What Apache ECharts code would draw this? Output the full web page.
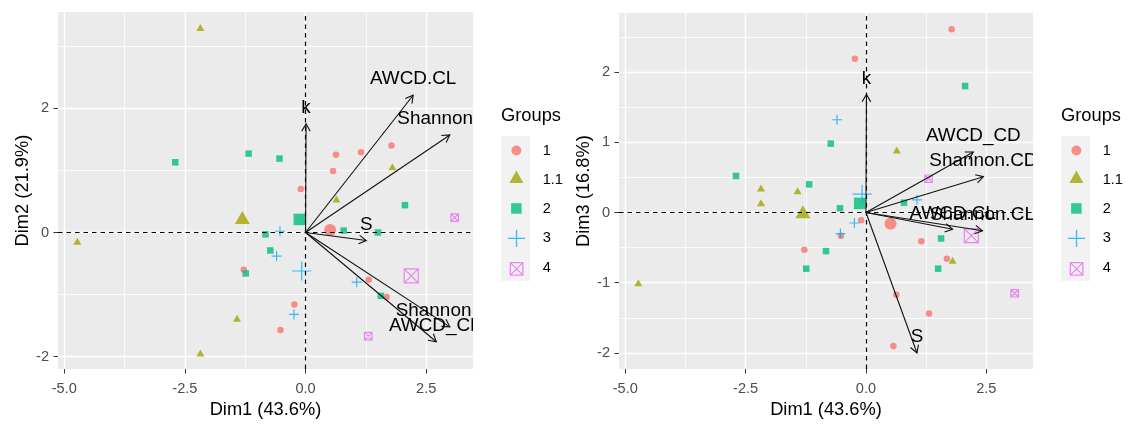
<!DOCTYPE html>
<html>
<head>
<meta charset="utf-8">
<script src="https://cdn.jsdelivr.net/npm/echarts@6/dist/echarts.min.js"></script>
<style>
  html, body { margin: 0; padding: 0; background: #ffffff; }
  #chart { width: 1127px; height: 424px; }
</style>
</head>
<body>
<div id="chart"></div>
<script>
// Individuals, one row per sample: [Dim1, Dim2, Dim3]
const group1 = [
  [-0.10, 0.70, -0.11], [0.57, 0.99, -1.90], [0.63, 1.25, -1.17], [1.15, 1.29, -0.41],
  [1.78, 1.40, 2.61], [-1.28, -0.60, -0.53], [1.31, -0.76, -1.44], [1.68, -1.04, -0.66],
  [-0.23, -1.16, 2.19], [-0.52, -1.57, -0.33]
];
const group1_1 = [
  [-2.18, 3.30, 0.35], [-4.73, -0.14, -1.00], [-1.42, -1.38, 0.31],
  [-2.18, -1.94, 0.14], [0.64, 0.54, 0.89], [1.80, 1.06, -0.68]
];
const group2 = [
  [-2.70, 1.13, 0.52], [-1.18, 1.27, 0.40], [-0.54, 1.19, 0.06], [-0.83, -0.03, -0.55],
  [0.79, 0.03, 0.14], [1.50, 0.00, -0.80], [2.06, 0.44, 1.80], [-0.73, -0.29, 0.98],
  [-1.24, -0.66, -0.80], [1.56, -1.02, -0.37]
];
const group3 = [
  [-0.53, 0.02, -0.30], [-0.60, -0.38, 1.32], [1.06, -0.80, 0.18], [-0.24, -1.32, -0.15]
];
const group4 = [
  [3.09, 0.24, -1.15], [1.30, -1.67, 0.48]
];
// Group means: [Dim1, Dim2, Dim3]
const centroids = [
  [0.51, 0.04, -0.16], [-1.31, 0.24, 0.01], [-0.13, 0.21, 0.13], [-0.08, -0.62, 0.26], [2.19, -0.70, -0.33]
];
const groupNames = ['1', '1.1', '2', '3', '4'];

// Variable arrows (scaled to each plane)
const varNames12 = ['k', 'AWCD.CL', 'Shannon.CL', 'S', 'Shannon.CD', 'AWCD_CD'];
const varTips12 = [[0.01, 1.75], [2.23, 2.21], [2.99, 1.57], [1.26, -0.13], [2.99, -1.52], [2.71, -1.76]];
const varNames13 = ['k', 'AWCD_CD', 'Shannon.CD', 'AWCD.CL', 'Shannon.CL', 'S'];
const varTips13 = [[0.01, 1.68], [2.23, 0.86], [2.44, 0.51], [1.80, -0.24], [2.42, -0.26], [1.06, -2.00]];

// Axis ranges and ticks
const dim1Range = [-5.13, 3.47];
const dim2Range = [-2.20, 3.55];
const dim3Range = [-2.23, 2.84];
const dim1Ticks = [-5, -2.5, 0, 2.5];
const dim1Minor = [-3.75, -1.25, 1.25];
const dim2Ticks = [-2, 0, 2];
const dim2Minor = [-1, 1, 3];
const dim3Ticks = [-2, -1, 0, 1, 2];
const dim3Minor = [-1.5, -0.5, 0.5, 1.5, 2.5];

const FONT = '"Liberation Sans", Arial, sans-serif';
const colors = ['#F8766D', '#A3A500', '#00BF7D', '#00B0F6', '#E76BF3'];
const groups = [group1, group1_1, group2, group3, group4];

const SYM_PLUS = 'path://M5 0V10M0 5H10';
const SYM_BOX = 'path://M0 0H10V10H0ZM0 0L10 10M10 0L0 10';
const pointSym = ['circle', 'triangle', 'rect', SYM_PLUS, SYM_BOX];
const pointSize = [6.5, [8, 7], 6.5, 10, 7.5];
const meanSize = [12, [15, 13], 11.5, 19, 14];
const hollow = [false, false, false, true, true];

function styleFor(i) {
  return hollow[i]
    ? { color: 'rgba(0,0,0,0)', borderColor: colors[i], borderWidth: 1.2 }
    : { color: colors[i], borderWidth: 0 };
}

function majorAxis(gridIndex, range, ticks, fmt, name, gap, labelMargin) {
  return {
    type: 'value', gridIndex, min: range[0], max: range[1],
    axisLine: { show: false, onZero: false },
    axisTick: { show: true, length: 4.5, customValues: ticks, lineStyle: { color: '#333333', width: 1 } },
    axisLabel: { customValues: ticks, formatter: fmt, color: '#4D4D4D', fontSize: 14.6, margin: labelMargin, fontFamily: FONT },
    splitLine: { show: true, lineStyle: { color: '#FFFFFF', width: 1.4 } },
    name, nameLocation: 'middle', nameGap: gap,
    nameTextStyle: { fontSize: 18.3, color: '#000000', fontFamily: FONT }
  };
}
function minorAxis(gridIndex, range, ticks, pos) {
  return {
    type: 'value', gridIndex, min: range[0], max: range[1], position: pos,
    axisLine: { show: false, onZero: false },
    axisTick: { show: false, customValues: ticks },
    axisLabel: { show: false, customValues: ticks },
    splitLine: { show: true, lineStyle: { color: '#FFFFFF', width: 0.8 } }
  };
}
const fmtX = v => v.toFixed(1);
const fmtY = v => String(v);

function arrowSeries(names, tips, axisIndex) {
  return {
    type: 'custom', xAxisIndex: axisIndex, yAxisIndex: axisIndex, clip: true, z: 6, silent: true,
    data: tips,
    renderItem(params, api) {
      const o = api.coord([0, 0]);
      const p = api.coord([api.value(0), api.value(1)]);
      const a = Math.atan2(p[1] - o[1], p[0] - o[0]);
      const L = 8.5, s = Math.PI / 6;
      const h1 = [p[0] - L * Math.cos(a - s), p[1] - L * Math.sin(a - s)];
      const h2 = [p[0] - L * Math.cos(a + s), p[1] - L * Math.sin(a + s)];
      return {
        type: 'group',
        children: [
          { type: 'line', shape: { x1: o[0], y1: o[1], x2: p[0], y2: p[1] }, style: { stroke: '#111111', lineWidth: 1.1 } },
          { type: 'polyline', shape: { points: [h1, p, h2] }, style: { stroke: '#111111', fill: null, lineWidth: 1.1 } },
          { type: 'text', x: p[0], y: p[1] - 16,
            style: { text: names[params.dataIndex], fill: '#000000', fontSize: 18.9, fontFamily: FONT,
                     align: 'center', verticalAlign: 'middle' } }
        ]
      };
    }
  };
}

function panelSeries(axisIndex, yDim) {
  const out = [];
  groups.forEach((g, i) => {
    const s = {
      type: 'scatter', name: groupNames[i], xAxisIndex: axisIndex, yAxisIndex: axisIndex,
      data: g.map(r => [r[0], r[yDim]]),
      symbol: pointSym[i], symbolSize: pointSize[i], itemStyle: styleFor(i), z: 3
    };
    if (i === 0) {
      s.markLine = {
        silent: true, symbol: 'none', label: { show: false }, animation: false,
        lineStyle: { color: '#000000', type: [4.5, 4], width: 1.2 },
        emphasis: { disabled: true },
        data: [{ xAxis: 0 }, { yAxis: 0 }]
      };
    }
    out.push(s);
  });
  groups.forEach((g, i) => {
    out.push({
      type: 'scatter', name: groupNames[i], xAxisIndex: axisIndex, yAxisIndex: axisIndex,
      data: [[centroids[i][0], centroids[i][yDim]]],
      symbol: pointSym[i], symbolSize: meanSize[i], itemStyle: styleFor(i), z: 4
    });
  });
  return out;
}

const legendIcons = [
  'path://M0 0M36 29M19.7 14.5A5 5 0 1 1 9.7 14.5A5 5 0 1 1 19.7 14.5Z',
  'path://M0 0M36 29M14.7 5.5L21.7 18L7.7 18Z',
  'path://M0 0M36 29M9.5 9.2H20V19.7H9.5Z',
  'path://M0 0M36 29M14.9 6.3V23.3M6.4 14.8H23.4',
  'path://M0 0M36 29M8.7 8.7H21.2V21.2H8.7ZM8.7 8.7L21.2 21.2M21.2 8.7L8.7 21.2'
];
function legendFor(left) {
  return {
    left, top: 136, orient: 'vertical', padding: 0, itemGap: 0,
    itemWidth: 36, itemHeight: 29, selectedMode: false,
    textStyle: { fontSize: 14.6, color: '#000000', fontFamily: FONT },
    data: groupNames.map((n, i) => ({
      name: n, icon: legendIcons[i],
      itemStyle: hollow[i]
        ? { color: 'rgba(0,0,0,0)', borderColor: colors[i], borderWidth: 1.3 }
        : { color: colors[i], borderWidth: 0 }
    }))
  };
}

const chart = echarts.init(document.getElementById('chart'), null, { renderer: 'canvas' });
chart.setOption({
  animation: false,
  backgroundColor: '#FFFFFF',
  textStyle: { fontFamily: FONT },
  title: [
    { text: 'Groups', left: 501, top: 107, padding: 0, textStyle: { fontSize: 18.3, fontWeight: 'normal', color: '#000000', fontFamily: FONT } },
    { text: 'Groups', left: 1061, top: 107, padding: 0, textStyle: { fontSize: 18.3, fontWeight: 'normal', color: '#000000', fontFamily: FONT } }
  ],
  graphic: [
    { type: 'rect', z: 0, shape: { x: 501, y: 136, width: 29, height: 145 }, style: { fill: '#F2F2F2' } },
    { type: 'rect', z: 0, shape: { x: 1061, y: 136, width: 29, height: 145 }, style: { fill: '#F2F2F2' } }
  ],
  legend: [legendFor(501), legendFor(1061)],
  grid: [
    { left: 58, top: 12, width: 415, height: 362, show: true, backgroundColor: '#EBEBEB', borderWidth: 0 },
    { left: 619, top: 13, width: 414, height: 361, show: true, backgroundColor: '#EBEBEB', borderWidth: 0 }
  ],
  xAxis: [
    majorAxis(0, dim1Range, dim1Ticks, fmtX, 'Dim1 (43.6%)', 28, 12),
    minorAxis(0, dim1Range, dim1Minor, 'bottom'),
    majorAxis(1, dim1Range, dim1Ticks, fmtX, 'Dim1 (43.6%)', 28, 12),
    minorAxis(1, dim1Range, dim1Minor, 'bottom')
  ],
  yAxis: [
    majorAxis(0, dim2Range, dim2Ticks, fmtY, 'Dim2 (21.9%)', 26, 9),
    minorAxis(0, dim2Range, dim2Minor, 'left'),
    majorAxis(1, dim3Range, dim3Ticks, fmtY, 'Dim3 (16.8%)', 26, 9),
    minorAxis(1, dim3Range, dim3Minor, 'left')
  ],
  series: [
    ...panelSeries(0, 1),
    arrowSeries(varNames12, varTips12, 0),
    ...panelSeries(2, 2),
    arrowSeries(varNames13, varTips13, 2)
  ]
});
</script>
</body>
</html>
